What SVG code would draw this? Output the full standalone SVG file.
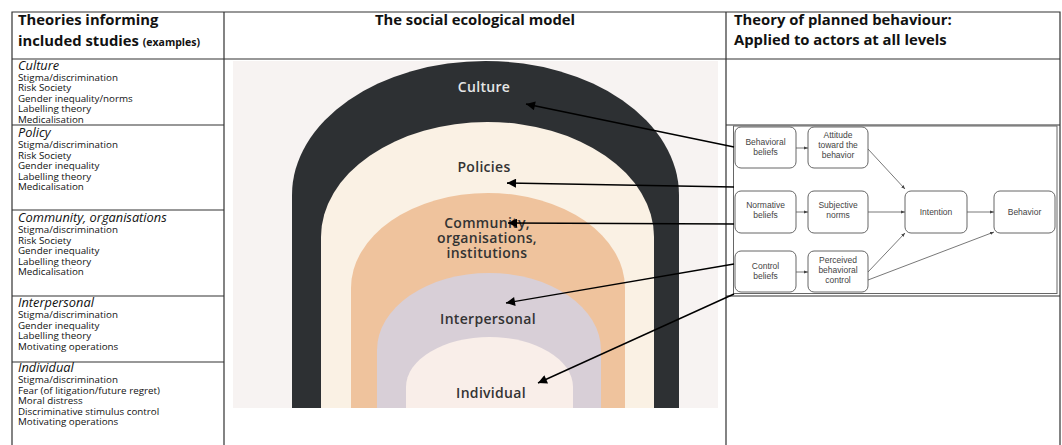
<svg xmlns="http://www.w3.org/2000/svg" width="1062" height="445" viewBox="0 0 1062 445">
<style>
.tl{stroke:#333;stroke-width:1.2;fill:none}
.hd{font-family:"Open Sans",sans-serif;font-weight:700;font-size:14.8px;fill:#111}
.sm{font-family:"Open Sans",sans-serif;font-weight:700;font-size:10.5px;fill:#111}
.lh{font-family:"Open Sans",sans-serif;font-style:italic;font-size:12.8px;fill:#111}
.li{font-family:"Open Sans",sans-serif;font-size:9.8px;fill:#111}
.al{font-family:"Open Sans",sans-serif;font-weight:600;font-size:14px;letter-spacing:0.3px;text-anchor:middle;fill:#333}
.nd rect{fill:#fff;stroke:#666;stroke-width:1}
.nd text{font-family:"Liberation Sans",Arial,sans-serif;font-size:8.5px;fill:#444;text-anchor:middle}
.ia{stroke:#555;stroke-width:0.8;fill:none;marker-end:url(#sa)}
.oa{stroke:#000;stroke-width:1.4;fill:none;marker-end:url(#ba)}
</style>
<defs>
<marker id="sa" viewBox="0 0 10 10" refX="10" refY="5" markerWidth="4" markerHeight="4" markerUnits="userSpaceOnUse" orient="auto"><path d="M0,1 L10,5 L0,9 Z" fill="#444"/></marker>
<marker id="ba" viewBox="0 0 10 10" refX="10" refY="5" markerWidth="11" markerHeight="9" markerUnits="userSpaceOnUse" orient="auto"><path d="M0,0 L10,5 L0,10 Z" fill="#000"/></marker>
</defs>
<rect width="1062" height="445" fill="#fff"/>

<g id="table">
<path class="tl" d="M12,446 V12 H1060 V446 M224,12 V446 M726,12 V446 M12,59 H1060 M12,125 H224 M12,210 H224 M12,296 H224 M12,362 H224 M726,125 H1060 M726,296 H1060"/>
<text class="hd" x="18" y="25">Theories informing</text>
<text class="hd" x="18" y="46">included studies <tspan class="sm">(examples)</tspan></text>
<text class="hd" x="475" y="25" text-anchor="middle">The social ecological model</text>
<text class="hd" x="734" y="25">Theory of planned behaviour:</text>
<text class="hd" x="734" y="45">Applied to actors at all levels</text>
</g>

<g id="theories-culture">
<text class="lh" x="18" y="70">Culture</text>
<text class="li" x="18" y="80.5">Stigma/discrimination</text>
<text class="li" x="18" y="91">Risk Society</text>
<text class="li" x="18" y="101.5">Gender inequality/norms</text>
<text class="li" x="18" y="112">Labelling theory</text>
<text class="li" x="18" y="122.5">Medicalisation</text>
</g>
<g id="theories-policy">
<text class="lh" x="18" y="137">Policy</text>
<text class="li" x="18" y="148">Stigma/discrimination</text>
<text class="li" x="18" y="158.5">Risk Society</text>
<text class="li" x="18" y="169">Gender inequality</text>
<text class="li" x="18" y="179.5">Labelling theory</text>
<text class="li" x="18" y="190">Medicalisation</text>
</g>
<g id="theories-community">
<text class="lh" x="18" y="222">Community, organisations</text>
<text class="li" x="18" y="233">Stigma/discrimination</text>
<text class="li" x="18" y="243.5">Risk Society</text>
<text class="li" x="18" y="254">Gender inequality</text>
<text class="li" x="18" y="264.5">Labelling theory</text>
<text class="li" x="18" y="275">Medicalisation</text>
</g>
<g id="theories-interpersonal">
<text class="lh" x="18" y="307">Interpersonal</text>
<text class="li" x="18" y="318">Stigma/discrimination</text>
<text class="li" x="18" y="328.5">Gender inequality</text>
<text class="li" x="18" y="339">Labelling theory</text>
<text class="li" x="18" y="349.5">Motivating operations</text>
</g>
<g id="theories-individual">
<text class="lh" x="18" y="372">Individual</text>
<text class="li" x="18" y="383">Stigma/discrimination</text>
<text class="li" x="18" y="393.5">Fear (of litigation/future regret)</text>
<text class="li" x="18" y="404">Moral distress</text>
<text class="li" x="18" y="414.5">Discriminative stimulus control</text>
<text class="li" x="18" y="425">Motivating operations</text>
</g>

<g id="sem">
<rect x="233" y="61" width="485" height="347" fill="#f7f3f2"/>
<g id="sem-culture">
<path d="M292,408 V195 A193.5,134 0 0 1 679,195 V408 Z" fill="#2d3033"/>
<text class="al" x="484" y="92" style="fill:#e6e6e6">Culture</text>
</g>
<g id="sem-policies">
<path d="M321,408 V237 A166.5,115 0 0 1 654,237 V408 Z" fill="#faf1e4"/>
<text class="al" x="484" y="172">Policies</text>
</g>
<g id="sem-community">
<path d="M351,408 V288 A137,95 0 0 1 625,288 V408 Z" fill="#efc39d"/>
<text class="al" x="487" y="228">Community,</text>
<text class="al" x="487" y="243">organisations,</text>
<text class="al" x="487" y="258">institutions</text>
</g>
<g id="sem-interpersonal">
<path d="M377,408 V350 A112,77 0 0 1 601,350 V408 Z" fill="#d8cfd7"/>
<text class="al" x="488" y="324">Interpersonal</text>
</g>
<g id="sem-individual">
<path d="M406,408 V387 A83.5,50 0 0 1 573,387 V408 Z" fill="#f9eee9"/>
<text class="al" x="491" y="398">Individual</text>
</g>
</g>

<g id="tpb">
<rect x="733.5" y="126" width="323.5" height="167.5" fill="#fff" stroke="#666" stroke-width="1"/>
<g id="n-bb" class="nd"><rect x="735" y="127" width="61" height="41" rx="6"/><text x="765.5" y="145">Behavioral</text><text x="765.5" y="155">beliefs</text></g>
<g id="n-att" class="nd"><rect x="808" y="127" width="60" height="41" rx="6"/><text x="838" y="138">Attitude</text><text x="838" y="148">toward the</text><text x="838" y="158">behavior</text></g>
<g id="n-nb" class="nd"><rect x="735" y="191" width="61" height="42" rx="6"/><text x="765.5" y="208">Normative</text><text x="765.5" y="218">beliefs</text></g>
<g id="n-sn" class="nd"><rect x="808" y="191" width="60" height="42" rx="6"/><text x="838" y="208">Subjective</text><text x="838" y="218">norms</text></g>
<g id="n-int" class="nd"><rect x="905" y="191" width="62" height="42" rx="6"/><text x="936" y="215">Intention</text></g>
<g id="n-beh" class="nd"><rect x="994" y="191" width="61" height="42" rx="6"/><text x="1024.5" y="215">Behavior</text></g>
<g id="n-cb" class="nd"><rect x="735" y="251" width="61" height="41" rx="6"/><text x="765.5" y="269">Control</text><text x="765.5" y="279">beliefs</text></g>
<g id="n-pbc" class="nd"><rect x="808" y="251" width="60" height="41" rx="6"/><text x="838" y="263">Perceived</text><text x="838" y="273">behavioral</text><text x="838" y="283">control</text></g>
</g>

<g id="connectors">
<path class="ia" d="M796,148 H808"/>
<path class="ia" d="M796,212 H808"/>
<path class="ia" d="M796,272 H808"/>
<path class="ia" d="M868,149 L905,189"/>
<path class="ia" d="M868,212 H905"/>
<path class="ia" d="M868,272 L905,233"/>
<path class="ia" d="M868,280 L994,232"/>
<path class="ia" d="M967,212 H994"/>
<path class="oa" d="M734,147 L526,104"/>
<path class="oa" d="M734,187 L507,183"/>
<path class="oa" d="M734,224 L508,223"/>
<path class="oa" d="M734,264 L506,303"/>
<path class="oa" d="M734,294 L538,383"/>
</g>
</svg>
